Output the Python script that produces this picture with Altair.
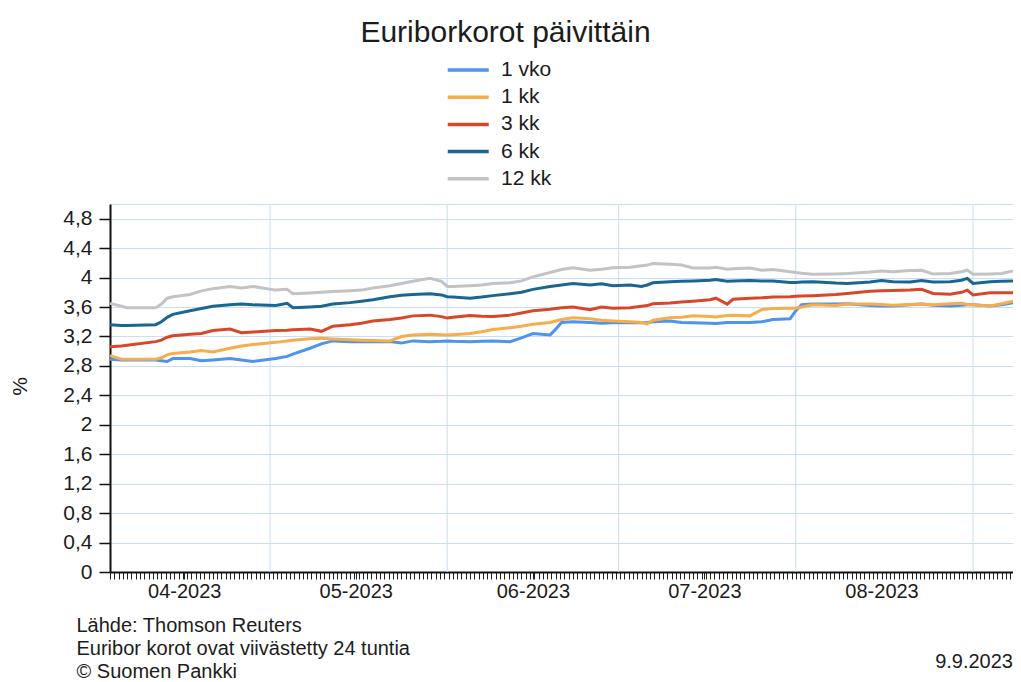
import altair as alt
import pandas as pd

# ---- data ----
dates = [
    "2023-04-03", "2023-04-05", "2023-04-06", "2023-04-11", "2023-04-12", "2023-04-13", "2023-04-14",
    "2023-04-17", "2023-04-19", "2023-04-21", "2023-04-24", "2023-04-26", "2023-04-28", "2023-05-02",
    "2023-05-04", "2023-05-05", "2023-05-08", "2023-05-10", "2023-05-12", "2023-05-15", "2023-05-17",
    "2023-05-19", "2023-05-22", "2023-05-24", "2023-05-26",
    "2023-05-29", "2023-05-31", "2023-06-01", "2023-06-02", "2023-06-05", "2023-06-07", "2023-06-09",
    "2023-06-12", "2023-06-14", "2023-06-16", "2023-06-19", "2023-06-20", "2023-06-21", "2023-06-23",
    "2023-06-26", "2023-06-28", "2023-06-30", "2023-07-03", "2023-07-05", "2023-07-06", "2023-07-07",
    "2023-07-10", "2023-07-12", "2023-07-14", "2023-07-17",
    "2023-07-18", "2023-07-20", "2023-07-21", "2023-07-24", "2023-07-26", "2023-07-28", "2023-07-31",
    "2023-08-01", "2023-08-02", "2023-08-04", "2023-08-08", "2023-08-10", "2023-08-14", "2023-08-16",
    "2023-08-18", "2023-08-21", "2023-08-23", "2023-08-25", "2023-08-28", "2023-08-30", "2023-08-31",
    "2023-09-01", "2023-09-04", "2023-09-06", "2023-09-08",
]

vko_1 = [
    2.89, 2.88, 2.88, 2.88, 2.87, 2.86, 2.90, 2.90, 2.87, 2.88, 2.90, 2.88, 2.86, 2.90, 2.93, 2.96,
    3.04, 3.10, 3.14, 3.13, 3.13, 3.13, 3.13, 3.11, 3.14,
    3.13, 3.135, 3.14, 3.135, 3.13, 3.135, 3.14, 3.13, 3.18, 3.24, 3.22, 3.30, 3.39, 3.40, 3.39, 3.38,
    3.385, 3.39, 3.385, 3.39, 3.40, 3.41, 3.39, 3.385, 3.38,
    3.375, 3.39, 3.39, 3.39, 3.40, 3.43, 3.44, 3.55, 3.63, 3.64, 3.64, 3.645, 3.62, 3.615, 3.615,
    3.63, 3.64, 3.625, 3.615, 3.625, 3.63, 3.63, 3.615, 3.63, 3.66,
]
kk_1 = [
    2.94, 2.89, 2.89, 2.89, 2.91, 2.95, 2.97, 2.99, 3.01, 2.99, 3.04, 3.07, 3.09, 3.12, 3.14, 3.15,
    3.17, 3.175, 3.165, 3.155, 3.15, 3.145, 3.14, 3.20, 3.22,
    3.23, 3.225, 3.22, 3.225, 3.24, 3.265, 3.295, 3.32, 3.34, 3.365, 3.39, 3.41, 3.43, 3.455, 3.44,
    3.42, 3.41, 3.40, 3.39, 3.37, 3.42, 3.455, 3.46, 3.48, 3.47,
    3.465, 3.485, 3.49, 3.48, 3.565, 3.58, 3.585, 3.585, 3.60, 3.63, 3.62, 3.64, 3.64, 3.635, 3.625,
    3.635, 3.64, 3.63, 3.645, 3.65, 3.635, 3.63, 3.615, 3.645, 3.68,
]
kk_3 = [
    3.06, 3.07, 3.08, 3.13, 3.15, 3.19, 3.21, 3.23, 3.24, 3.28, 3.30, 3.25, 3.26, 3.28, 3.285, 3.29,
    3.30, 3.27, 3.34, 3.36, 3.38, 3.41, 3.43, 3.45, 3.48,
    3.49, 3.47, 3.45, 3.46, 3.485, 3.475, 3.47, 3.49, 3.52, 3.55, 3.57, 3.58, 3.59, 3.60, 3.565,
    3.60, 3.585, 3.59, 3.61, 3.62, 3.645, 3.655, 3.67, 3.68, 3.70,
    3.72, 3.64, 3.705, 3.72, 3.725, 3.735, 3.74, 3.745, 3.75, 3.755, 3.77, 3.785, 3.815, 3.82, 3.825,
    3.83, 3.84, 3.785, 3.775, 3.80, 3.83, 3.765, 3.795, 3.795, 3.795,
]
kk_6 = [
    3.36, 3.35, 3.35, 3.36, 3.40, 3.46, 3.50, 3.55, 3.58, 3.61, 3.63, 3.64, 3.63, 3.62, 3.65, 3.59,
    3.60, 3.61, 3.64, 3.66, 3.68, 3.70, 3.74, 3.76, 3.77,
    3.78, 3.765, 3.74, 3.735, 3.72, 3.735, 3.755, 3.78, 3.80, 3.84, 3.88, 3.89, 3.90, 3.92, 3.90,
    3.915, 3.89, 3.90, 3.88, 3.90, 3.93, 3.945, 3.95, 3.955, 3.965,
    3.975, 3.95, 3.955, 3.96, 3.955, 3.955, 3.935, 3.935, 3.94, 3.945, 3.925, 3.92, 3.94, 3.96, 3.945,
    3.94, 3.96, 3.94, 3.945, 3.965, 3.99, 3.92, 3.945, 3.95, 3.955,
]
kk_12 = [
    3.65, 3.61, 3.59, 3.59, 3.64, 3.72, 3.74, 3.77, 3.82, 3.85, 3.88, 3.86, 3.88, 3.83, 3.84, 3.78,
    3.79, 3.80, 3.81, 3.82, 3.83, 3.86, 3.89, 3.92, 3.95,
    3.99, 3.95, 3.88, 3.88, 3.89, 3.90, 3.92, 3.93, 3.955, 4.01, 4.07, 4.09, 4.11, 4.135, 4.10,
    4.115, 4.135, 4.14, 4.16, 4.17, 4.19, 4.18, 4.17, 4.13, 4.13,
    4.14, 4.115, 4.12, 4.13, 4.10, 4.11, 4.08, 4.07, 4.06, 4.045, 4.05, 4.055, 4.075, 4.09, 4.08,
    4.095, 4.10, 4.05, 4.055, 4.08, 4.10, 4.045, 4.05, 4.055, 4.09,
]

series_names = ["1 vko", "1 kk", "3 kk", "6 kk", "12 kk"]
series_colors = ["#4D94EE", "#F7AE4A", "#D9472A", "#1A6690", "#C3C3C3"]

month_starts = ["2023-05-01", "2023-06-01", "2023-07-01", "2023-08-01", "2023-09-01"]
label_days = ["2023-04-16", "2023-05-16", "2023-06-16", "2023-07-16", "2023-08-16"]
y_ticks = [0, 0.4, 0.8, 1.2, 1.6, 2.0, 2.4, 2.8, 3.2, 3.6, 4.0, 4.4, 4.8]

title_text = "Euriborkorot päivittäin"
source_lines = ["Lähde: Thomson Reuters", "Euribor korot ovat viivästetty 24 tuntia", "© Suomen Pankki"]
stamp_text = ["9.9.2023"]

# ---- styling ----
FONT = "Liberation Sans"
TXT = "#1c1c1c"
GRID = "#C9DDF7"
W, H = 903, 368


def ms(s):
    return int(pd.Timestamp(s).value // 10**6)


x_start, x_end = ms("2023-04-03"), ms("2023-09-08")
tick_step = 18 * 3600 * 1000
tick_vals = sorted(set(list(range(x_start, x_end + 1, tick_step)) + [ms(d) for d in label_days]))

rows = []
for name, vals in zip(series_names, [vko_1, kk_1, kk_3, kk_6, kk_12]):
    for d, v in zip(dates, vals):
        rows.append({"date": d, "series": name, "rate": v})
df = pd.DataFrame(rows)
rules_df = pd.DataFrame({"date": month_starts})
stamp_df = pd.DataFrame({"t": stamp_text})

xscale = alt.Scale(type="utc", domain=[x_start, x_end])
yscale = alt.Scale(domain=[0, 5], nice=False)

x_axis = alt.Axis(
    values=tick_vals,
    labelExpr="utcFormat(datum.value, '%d %H') == '16 00' ? utcFormat(datum.value, '%m-%Y') : ''",
    labelOverlap=False,
    labelFont=FONT, labelFontSize=20, labelColor=TXT, labelPadding=2,
    tickSize=7, tickColor="#222222", tickWidth=1,
    domainColor="#111111", domainWidth=2,
    grid=False,
    title=source_lines,
    titleFont=FONT, titleFontSize=20, titleFontWeight="normal", titleColor=TXT,
    titleX=-34, titleY=43, titleAnchor="start", titleAlign="left", titleBaseline="top",
    titleLineHeight=23.3,
)

y_axis = alt.Axis(
    values=y_ticks,
    labelExpr="replace(format(datum.value, '.1~f'), '.', ',')",
    labelFont=FONT, labelFontSize=21, labelColor=TXT, labelPadding=7,
    tickSize=11, tickColor="#111111", tickWidth=1.5,
    domainColor="#111111", domainWidth=2,
    grid=True, gridColor=GRID, gridWidth=1,
    title="%",
    titleFont=FONT, titleFontSize=21, titleFontWeight="normal", titleColor=TXT,
    titleX=-90, titleY=182, titleAlign="center", titleBaseline="middle", titleAngle=270,
)

rules = alt.Chart(rules_df).mark_rule(color=GRID, strokeWidth=1).encode(
    x=alt.X("date:T", scale=xscale, axis=x_axis),
)

lines = alt.Chart(df).mark_line(strokeWidth=3).encode(
    x=alt.X("date:T", scale=xscale, axis=x_axis),
    y=alt.Y("rate:Q", scale=yscale, axis=y_axis),
    color=alt.Color(
        "series:N",
        scale=alt.Scale(domain=series_names, range=series_colors),
        legend=alt.Legend(
            orient="none", legendX=336, legendY=-146, title=None,
            symbolType="M-1,0H3", symbolSize=420, symbolStrokeWidth=3.5,
            labelFont=FONT, labelFontSize=21, labelColor=TXT, labelOffset=31,
            rowPadding=5.2, padding=0,
        ),
    ),
)

stamp = alt.Chart(stamp_df).mark_text(
    align="right", baseline="middle", font=FONT, fontSize=20, color=TXT
).encode(x=alt.value(W), y=alt.value(458), text="t:N")

chart = alt.layer(rules, lines, stamp).properties(
    width=W,
    height=H,
    title=alt.TitleParams(
        title_text, font=FONT, fontSize=30, fontWeight="normal", color=TXT,
        anchor="middle", frame="group", dx=-56, dy=-6,
    ),
    padding={"left": 102, "top": 196, "right": 0, "bottom": 110},
    autosize=alt.AutoSizeParams(type="none"),
).configure_view(stroke=GRID, strokeWidth=1)

chart.save("out.html", embed_options={"renderer": "svg", "actions": False})
